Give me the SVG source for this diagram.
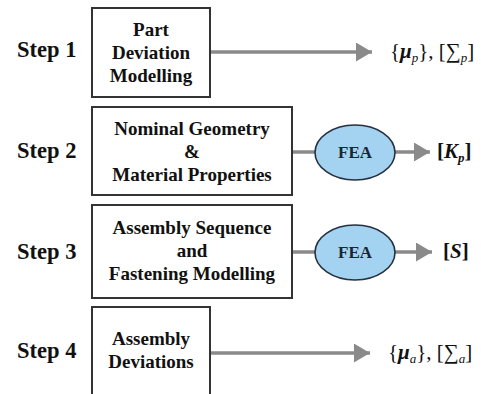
<svg xmlns="http://www.w3.org/2000/svg" width="481" height="394" viewBox="0 0 481 394">
<defs>
<marker id="ah" markerUnits="userSpaceOnUse" markerWidth="17" markerHeight="20" refX="16" refY="9.5" orient="auto">
<path d="M0,0 L16,9.5 L0,19 Z" fill="#8a8a8a"/>
</marker>
<style>
.box{fill:#fff;stroke:#333;stroke-width:2}
.ell{fill:#a3d3f0;stroke:#263140;stroke-width:1.6}
.t{font-family:"Liberation Serif","Times New Roman",serif;font-weight:bold;font-size:19px;fill:#111;text-anchor:middle}
.step{font-family:"Liberation Serif","Times New Roman",serif;font-weight:bold;font-size:22.5px;fill:#111}
.m{font-family:"Liberation Serif","Times New Roman",serif;font-size:21px;fill:#111}
.fea{font-family:"Liberation Serif","Times New Roman",serif;font-weight:bold;font-size:17px;fill:#1a2535;text-anchor:middle}
.c{stroke:#8a8a8a;stroke-width:3.5;fill:none}
</style>
</defs>
<g id="labels">
<text class="step" x="17" y="57">Step 1</text>
<text class="step" x="17" y="158">Step 2</text>
<text class="step" x="17" y="259">Step 3</text>
<text class="step" x="17" y="358">Step 4</text>
</g>
<g id="connectors">
<line class="c" x1="211" y1="52" x2="372" y2="52" marker-end="url(#ah)"/>
<line class="c" x1="293" y1="152" x2="315" y2="152"/>
<line class="c" x1="395" y1="152" x2="430" y2="152" marker-end="url(#ah)"/>
<line class="c" x1="293" y1="252" x2="315" y2="252"/>
<line class="c" x1="395" y1="252" x2="432" y2="252" marker-end="url(#ah)"/>
<line class="c" x1="211" y1="353" x2="370" y2="353" marker-end="url(#ah)"/>
</g>
<g id="box1">
<rect class="box" x="92" y="8" width="118" height="89"/>
<text class="t" x="151" y="36">Part</text>
<text class="t" x="151" y="59">Deviation</text>
<text class="t" x="151" y="82">Modelling</text>
</g>
<g id="box2">
<rect class="box" x="92" y="107" width="200" height="88"/>
<text class="t" x="192" y="135">Nominal Geometry</text>
<text class="t" x="192" y="158">&amp;</text>
<text class="t" x="192" y="181">Material Properties</text>
</g>
<g id="box3">
<rect class="box" x="92" y="205" width="200" height="93"/>
<text class="t" x="192" y="234">Assembly Sequence</text>
<text class="t" x="192" y="257">and</text>
<text class="t" x="192" y="280">Fastening Modelling</text>
</g>
<g id="box4">
<rect class="box" x="92" y="307" width="118" height="100"/>
<text class="t" x="151" y="345">Assembly</text>
<text class="t" x="151" y="368">Deviations</text>
</g>
<g id="fea1">
<ellipse class="ell" cx="355" cy="152.5" rx="40" ry="27.5"/>
<text class="fea" x="355" y="158">FEA</text>
</g>
<g id="fea2">
<ellipse class="ell" cx="355" cy="252.5" rx="40" ry="27.5"/>
<text class="fea" x="355" y="258">FEA</text>
</g>
<g id="out1">
<text class="m" x="390" y="58">{<tspan font-weight="bold" font-style="italic">μ</tspan><tspan font-style="italic" font-size="13" dy="4">p</tspan><tspan dy="-4">}, [∑</tspan><tspan font-style="italic" font-size="13" dy="4">p</tspan><tspan dy="-4">]</tspan></text>
</g>
<g id="out2">
<text class="m" x="437" y="158" font-weight="bold">[<tspan font-style="italic">K</tspan><tspan font-style="italic" font-size="13" dy="4">p</tspan><tspan dy="-4">]</tspan></text>
</g>
<g id="out3">
<text class="m" x="443" y="258" font-weight="bold">[<tspan font-style="italic">S</tspan>]</text>
</g>
<g id="out4">
<text class="m" x="388" y="359">{<tspan font-weight="bold" font-style="italic">μ</tspan><tspan font-style="italic" font-size="13" dy="4">a</tspan><tspan dy="-4">}, [∑</tspan><tspan font-style="italic" font-size="13" dy="4">a</tspan><tspan dy="-4">]</tspan></text>
</g>
</svg>
